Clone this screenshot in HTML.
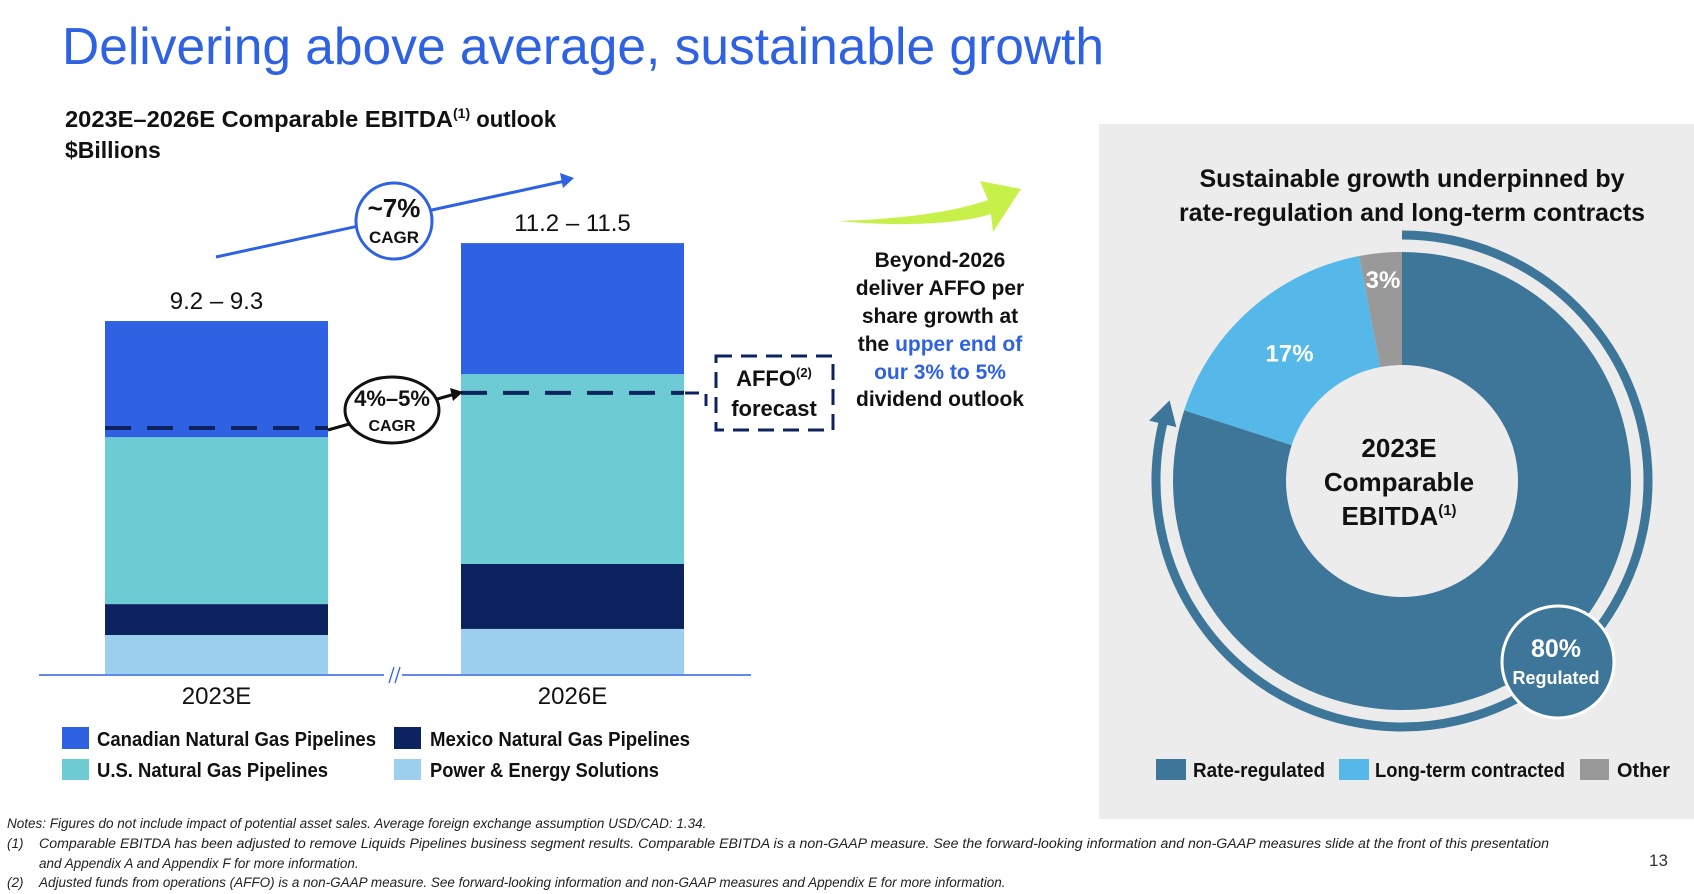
<!DOCTYPE html>
<html><head><meta charset="utf-8"><style>
html,body{margin:0;padding:0;background:#fff;}
svg{display:block;font-family:"Liberation Sans",sans-serif;}
</style></head><body>
<svg id="s" width="1694" height="894" viewBox="0 0 1694 894" xmlns="http://www.w3.org/2000/svg">
<text x="62" y="64" font-size="52" fill="#2e62e3" textLength="1042" lengthAdjust="spacingAndGlyphs">Delivering above average, sustainable growth</text>
<text x="65" y="127" font-size="23" font-weight="bold" fill="#111"><tspan textLength="388" lengthAdjust="spacingAndGlyphs">2023E–2026E Comparable EBITDA</tspan><tspan font-size="14" dy="-9">(1)</tspan><tspan dy="9" textLength="86" lengthAdjust="spacingAndGlyphs"> outlook</tspan></text>
<text x="65" y="158" font-size="23" font-weight="bold" fill="#111">$Billions</text>
<g id="bars"></g>
<line x1="39" y1="675" x2="751" y2="675" stroke="#2e62e3" stroke-width="1.5"/>
<g><rect x="384" y="668" width="18" height="14" fill="#fff"/><line x1="389" y1="683" x2="394" y2="667" stroke="#2e62e3" stroke-width="1.3"/><line x1="395" y1="683" x2="400" y2="667" stroke="#2e62e3" stroke-width="1.3"/></g>
<g>
<line x1="216" y1="257" x2="565" y2="181" stroke="#2e62e3" stroke-width="3"/>
<polygon points="574,178 560,173 563,188" fill="#2e62e3"/>
<circle cx="394" cy="221" r="38" fill="#fff" stroke="#2e62e3" stroke-width="3"/>
<text x="394" y="217" font-size="26" font-weight="bold" text-anchor="middle" fill="#111">~7%</text>
<text x="394" y="243" font-size="17" font-weight="bold" text-anchor="middle" fill="#111">CAGR</text>
</g>
<g>
<line x1="328" y1="430" x2="455" y2="394" stroke="#111" stroke-width="3"/>
<polygon points="463,392 450,388 453,401" fill="#111"/>
<ellipse cx="392" cy="410" rx="47" ry="33" fill="#fff" stroke="#111" stroke-width="3"/>
<text x="392" y="406" font-size="22" font-weight="bold" text-anchor="middle" fill="#111">4%–5%</text>
<text x="392" y="431" font-size="16" font-weight="bold" text-anchor="middle" fill="#111">CAGR</text>
</g>
<g>
<path d="M685 393 H706 V406" fill="none" stroke="#0c2360" stroke-width="3" stroke-dasharray="14 8"/>
<rect x="716" y="356" width="117" height="74" fill="#fff" stroke="#0c2360" stroke-width="3" stroke-dasharray="16 9"/>
<text x="774" y="386" font-size="22" font-weight="bold" text-anchor="middle" fill="#111">AFFO<tspan font-size="13" dy="-9">(2)</tspan></text>
<text x="774" y="416" font-size="22" font-weight="bold" text-anchor="middle" fill="#111">forecast</text>
</g>
<g>
<g><rect x="62" y="727" width="27" height="22" fill="#2e62e3"/><text x="97" y="746" font-size="20" font-weight="bold" fill="#111" textLength="279" lengthAdjust="spacingAndGlyphs">Canadian Natural Gas Pipelines</text></g>
<g><rect x="62" y="759" width="27" height="21" fill="#6ccbd3"/><text x="97" y="777" font-size="20" font-weight="bold" fill="#111" textLength="231" lengthAdjust="spacingAndGlyphs">U.S. Natural Gas Pipelines</text></g>
<g><rect x="394" y="727" width="27" height="22" fill="#0c2360"/><text x="430" y="746" font-size="20" font-weight="bold" fill="#111" textLength="260" lengthAdjust="spacingAndGlyphs">Mexico Natural Gas Pipelines</text></g>
<g><rect x="394" y="759" width="27" height="21" fill="#9dd0ee"/><text x="430" y="777" font-size="20" font-weight="bold" fill="#111" textLength="229" lengthAdjust="spacingAndGlyphs">Power &amp; Energy Solutions</text></g>
</g>
<path d="M838 221 C900 219 950 213 988 200 L980 181 L1021 189 L993 232 L991 214 C960 224 900 227 838 221 Z" fill="#c8f04a"/>
<g font-size="21" font-weight="bold" fill="#111" text-anchor="middle">
<text x="940" y="267">Beyond-2026</text>
<text x="940" y="295">deliver AFFO per</text>
<text x="940" y="323">share growth at</text>
<text x="940" y="351">the <tspan fill="#2e62e3">upper end of</tspan></text>
<text x="940" y="379" fill="#2e62e3">our 3% to 5%</text>
<text x="940" y="406">dividend outlook</text>
</g>
<rect x="1099" y="124" width="595" height="695" fill="#ececec"/>
<text x="1412" y="187" font-size="25" font-weight="bold" text-anchor="middle" fill="#111" textLength="425" lengthAdjust="spacingAndGlyphs">Sustainable growth underpinned by</text>
<text x="1412" y="221" font-size="25" font-weight="bold" text-anchor="middle" fill="#111" textLength="466" lengthAdjust="spacingAndGlyphs">rate-regulation and long-term contracts</text>
<g id="donut"></g>
<g>
<g><rect x="1156" y="759" width="30" height="21" fill="#3d7698"/><text x="1193" y="777" font-size="20" font-weight="bold" fill="#111" textLength="132" lengthAdjust="spacingAndGlyphs">Rate-regulated</text></g>
<g><rect x="1339" y="759" width="30" height="21" fill="#56b8e8"/><text x="1375" y="777" font-size="20" font-weight="bold" fill="#111" textLength="190" lengthAdjust="spacingAndGlyphs">Long-term contracted</text></g>
<g><rect x="1580" y="759" width="29" height="21" fill="#999"/><text x="1617" y="777" font-size="20" font-weight="bold" fill="#111" textLength="53" lengthAdjust="spacingAndGlyphs">Other</text></g>
</g>
<g font-size="13.5" font-style="italic" fill="#222">
<text x="7" y="828">Notes: Figures do not include impact of potential asset sales. Average foreign exchange assumption USD/CAD: 1.34.</text>
<text x="7" y="848">(1)</text><text x="39" y="848" textLength="1510" lengthAdjust="spacingAndGlyphs">Comparable EBITDA has been adjusted to remove Liquids Pipelines business segment results. Comparable EBITDA is a non-GAAP measure. See the forward-looking information and non-GAAP measures slide at the front of this presentation</text>
<text x="39" y="868">and Appendix A and Appendix F for more information.</text>
<text x="7" y="887">(2)</text><text x="39" y="887">Adjusted funds from operations (AFFO) is a non-GAAP measure. See forward-looking information and non-GAAP measures and Appendix E for more information.</text>
</g>
<text x="1649" y="866" font-size="17" fill="#333">13</text>
</svg>
<script>
const categories = ["2023E", "2026E"];
const rangeLabels = ["9.2 – 9.3", "11.2 – 11.5"];
const powerValues = [1.02, 1.18];
const mexicoValues = [0.81, 1.70];
const usValues = [4.37, 4.97];
const canadianValues = [3.04, 3.43];
const affoLevels = [6.44, 7.36];
const donutLabels = ["Rate-regulated", "Long-term contracted", "Other"];
const donutValues = [80, 17, 3];

const NS = "http://www.w3.org/2000/svg";
function mk(tag, attrs, parent) { const e = document.createElementNS(NS, tag); for (const k in attrs) e.setAttribute(k, attrs[k]); parent.appendChild(e); return e; }
const yBase = 674, pxPer = 38.2;
function y(v) { return yBase - v * pxPer; }
function xBar(i) { return 105 + i * 356; }
const barW = 223;
const bars = document.getElementById('bars');
const series = [[powerValues, "#9dd0ee", "power"], [mexicoValues, "#0c2360", "mexico"], [usValues, "#6ccbd3", "us"], [canadianValues, "#2e62e3", "canadian"]];
categories.forEach((c, i) => {
  let cum = 0;
  series.forEach(([vals, col, nm]) => {
    const r = mk('rect', { x: xBar(i), y: y(cum + vals[i]), width: barW, height: vals[i] * pxPer, fill: col }, bars);
    
    
    cum += vals[i];
  });
  const t = mk('text', { x: xBar(i) + barW / 2, y: y(cum) - 12, 'font-size': 24, 'text-anchor': 'middle', fill: '#111' }, bars);
  t.textContent = rangeLabels[i];
  
  
  const d = mk('line', { x1: xBar(i), x2: xBar(i) + barW, y1: y(affoLevels[i]), y2: y(affoLevels[i]), stroke: '#0c2360', 'stroke-width': 4, 'stroke-dasharray': '26 16' }, bars);
  
  
  const xl = mk('text', { x: xBar(i) + barW / 2, y: 704, 'font-size': 24, 'text-anchor': 'middle', fill: '#111' }, bars);
  xl.textContent = c;
  
  
});

const dn = document.getElementById('donut');
const cx = 1402, cy = 481, R = 229, r0 = 116;
const colors = ["#3d7698", "#56b8e8", "#999999"];
const total = donutValues.reduce((a, b) => a + b, 0);
function pt(rad, a) { return [cx + rad * Math.sin(a), cy - rad * Math.cos(a)]; }
let a0 = 0;
donutValues.forEach((v, i) => {
  const a1 = a0 + v / total * 2 * Math.PI;
  const large = (a1 - a0) > Math.PI ? 1 : 0;
  const p1 = pt(R, a0), p2 = pt(R, a1), p3 = pt(r0, a1), p4 = pt(r0, a0);
  const p = mk('path', { d: `M${p1} A${R} ${R} 0 ${large} 1 ${p2} L${p3} A${r0} ${r0} 0 ${large} 0 ${p4} Z`, fill: colors[i] }, dn);
  
  
  if (i > 0) {
    const mid = (a0 + a1) / 2; const rr = i === 2 ? 202 : 170;
    const lp = pt(rr, mid);
    const t = mk('text', { x: lp[0], y: lp[1] + 8, 'font-size': 24, 'font-weight': 'bold', 'text-anchor': 'middle', fill: '#fff' }, dn);
    t.textContent = v + '%';
    
    
  }
  a0 = a1;
});
const aEnd = donutValues[0] / total * 2 * Math.PI;
const Ra = 246;
const s = pt(Ra, 0), e = pt(Ra, aEnd - 0.06);
const ring = mk('path', { d: `M${s} A${Ra} ${Ra} 0 1 1 ${e}`, fill: 'none', stroke: '#3d7698', 'stroke-width': 9 }, dn);


const tip = pt(Ra, aEnd + 0.02), bl = pt(Ra - 14, aEnd - 0.08), br = pt(Ra + 14, aEnd - 0.08);
const head = mk('polygon', { points: `${tip} ${bl} ${br}`, fill: '#3d7698' }, dn);


const ct = [["2023E", 457], ["Comparable", 491]];
ct.forEach(([txt, yy]) => {
  const t = mk('text', { x: 1399, y: yy, 'font-size': 26, 'font-weight': 'bold', 'text-anchor': 'middle', fill: '#111' }, dn);
  t.textContent = txt;
  
  
});
const eb = mk('text', { x: 1399, y: 525, 'font-size': 26, 'font-weight': 'bold', 'text-anchor': 'middle', fill: '#111' }, dn);
eb.innerHTML = 'EBITDA<tspan font-size="15" dy="-10">(1)</tspan>';


const bub = mk('circle', { cx: 1558, cy: 662, r: 56, fill: '#3d7698', stroke: '#fff', 'stroke-width': 3 }, dn);


const b1 = mk('text', { x: 1556, y: 657, 'font-size': 25, 'font-weight': 'bold', 'text-anchor': 'middle', fill: '#fff' }, dn);
b1.textContent = donutValues[0] + '%';


const b2 = mk('text', { x: 1556, y: 684, 'font-size': 18, 'font-weight': 'bold', 'text-anchor': 'middle', fill: '#fff' }, dn);
b2.textContent = 'Regulated';


</script>
</body></html>
